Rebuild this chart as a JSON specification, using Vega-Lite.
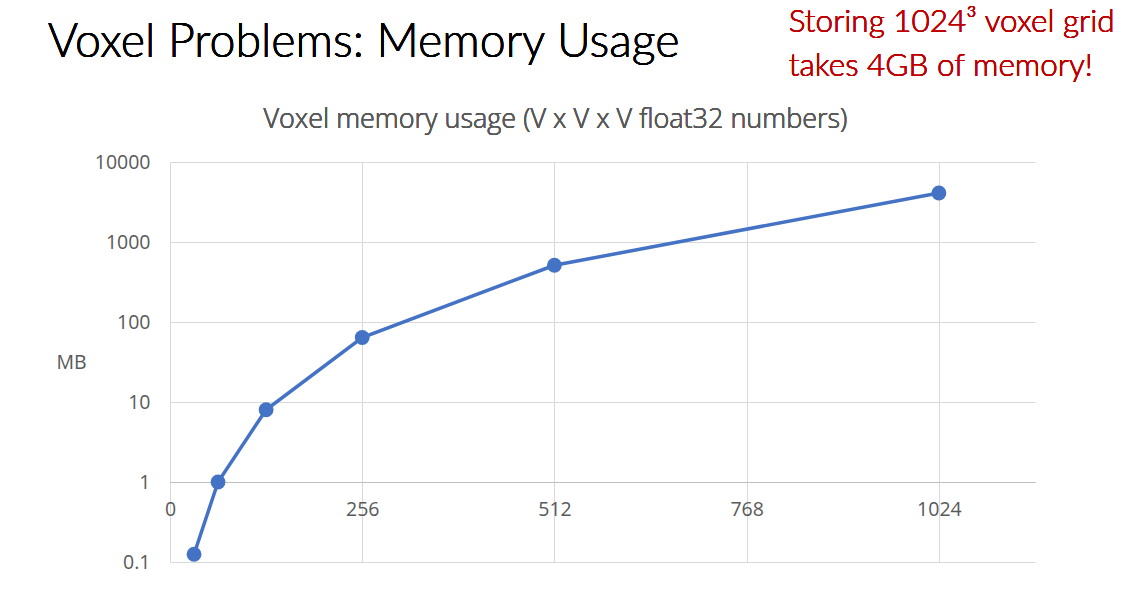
{
  "$schema": "https://vega.github.io/schema/vega-lite/v6.json",
  "autosize": "none",
  "width": 865,
  "height": 400,
  "padding": {"left": 170, "top": 162, "right": 95, "bottom": 28},
  "background": "white",
  "config": {"view": {"stroke": null}},
  "data": {
    "values": [
      {"V": 32, "MB": 0.125},
      {"V": 64, "MB": 1},
      {"V": 128, "MB": 8},
      {"V": 256, "MB": 64},
      {"V": 512, "MB": 512},
      {"V": 1024, "MB": 4096}
    ]
  },
  "layer": [
    {
      "mark": {
        "type": "line",
        "color": "#4472C4",
        "strokeWidth": 3.5,
        "point": {"filled": true, "size": 220, "color": "#4472C4", "opacity": 1}
      },
      "encoding": {
        "x": {
          "field": "V",
          "type": "quantitative",
          "scale": {"domain": [0, 1152], "nice": false, "zero": false},
          "axis": {
            "values": [0, 256, 512, 768, 1024],
            "format": "d",
            "offset": -80,
            "title": null,
            "ticks": false,
            "domainColor": "#BFBFBF",
            "domainWidth": 1,
            "grid": true,
            "gridColor": "#D9D9D9",
            "gridWidth": 1,
            "labelFlush": false,
            "labelFont": "Open Sans",
            "labelFontSize": 19.5,
            "labelColor": "#595959",
            "labelPadding": 18
          }
        },
        "y": {
          "field": "MB",
          "type": "quantitative",
          "scale": {"type": "log", "domain": [0.1, 10000], "nice": false},
          "axis": {
            "values": [0.1, 1, 10, 100, 1000, 10000],
            "format": "~g",
            "domain": false,
            "ticks": false,
            "grid": true,
            "gridColor": "#D9D9D9",
            "gridWidth": 1,
            "labelFont": "Open Sans",
            "labelFontSize": 19.5,
            "labelColor": "#595959",
            "labelPadding": 20,
            "title": "MB",
            "titleAngle": 0,
            "titleX": -99,
            "titleY": 200,
            "titleAlign": "center",
            "titleBaseline": "middle",
            "titleFont": "Open Sans",
            "titleFontSize": 19.5,
            "titleFontWeight": "normal",
            "titleColor": "#595959"
          }
        }
      }
    },
    {
      "mark": {
        "type": "text",
        "text": "Voxel memory usage (V x V x V float32 numbers)",
        "font": "Open Sans",
        "fontSize": 27,
        "fontWeight": 300,
        "color": "#595959",
        "align": "center",
        "baseline": "alphabetic"
      },
      "encoding": {
        "x": {"datum": 513.3},
        "y": {"datum": 26607}
      }
    },
    {
      "mark": {
        "type": "text",
        "text": "Voxel Problems: Memory Usage",
        "font": "Lato",
        "fontWeight": 300,
        "fontSize": 46.5,
        "color": "#000000",
        "align": "left",
        "baseline": "alphabetic"
      },
      "encoding": {
        "x": {"datum": -162.7},
        "y": {"datum": 205353}
      }
    },
    {
      "mark": {
        "type": "text",
        "text": ["Storing 1024³ voxel grid", "takes 4GB of memory!"],
        "font": "Lato",
        "fontWeight": 300,
        "fontSize": 31.5,
        "lineHeight": 44,
        "color": "#C00000",
        "align": "left",
        "baseline": "alphabetic"
      },
      "encoding": {
        "x": {"datum": 824},
        "y": {"datum": 427700}
      }
    }
  ]
}
